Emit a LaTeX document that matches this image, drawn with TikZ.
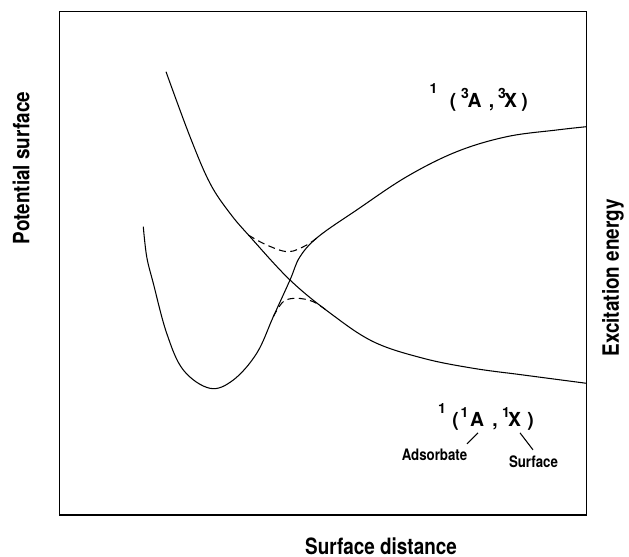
\documentclass[tikz,border=0pt]{standalone}
\usepackage{fontspec}
\setmainfont{texgyreheros}[Extension=.otf, UprightFont=*-regular, BoldFont=*-bold, FakeStretch=0.84]
\newfontfamily\statefont{texgyreheros}[Extension=.otf, UprightFont=*-regular, BoldFont=*-bold]

\begin{document}
\begin{tikzpicture}[x=0.02cm, y=-0.02cm,
  frame/.style={line width=0.9pt},
  curve/.style={line width=0.6pt},
  avoid/.style={curve, dash pattern=on 4pt off 2.5pt},
  axis/.style={font=\bfseries\fontsize{12.8}{14}\selectfont, inner sep=0},
  tag/.style={font=\bfseries\fontsize{9}{10}\selectfont, inner sep=0, anchor=base},
  st/.style={font=\statefont\bfseries\fontsize{11}{12}\selectfont, inner sep=0, anchor=base},
  sup/.style={st, font=\statefont\bfseries\fontsize{8}{9}\selectfont}]
  \useasboundingbox (0,0) rectangle (629,557);
  \draw[frame] (59.5,11.7) rectangle (586.5,515);

  \draw[curve] plot[smooth, tension=0.6] coordinates {(166,71.7) (190,136.7) (210,183.3) (230,213.3) (250,236.7) (290,280) (330,313) (373.3,341.7) (423.3,358.3) (473.3,368.3) (523.3,375) (586.5,383.3)};
  \draw[curve] plot[smooth, tension=0.6] coordinates {(143.3,226.7) (146.7,256.7) (153.3,283.3) (166.7,333.3) (183.3,370) (210,388.3) (233.3,380) (256.7,353.3) (273.3,316.7) (290,280) (300,256.7) (318.3,236.7) (356.7,210) (406.7,176.7) (456.7,151.7) (506.7,136.7) (556.7,130) (586.5,126.7)};
  \draw[avoid] plot[smooth, tension=0.6] coordinates {(248.3,235) (266.7,245) (288.3,251.7) (306.7,245) (318.3,236.7)};
  \draw[avoid] plot[smooth, tension=0.6] coordinates {(273.3,316.7) (283.3,301.7) (296.7,298.3) (313.3,301.7) (328.3,311.7)};

  \node[sup] (uone) at (433.5,94) {1};
  \node[st] (uopen) at (453,107.5) {(};
  \node[sup] (usupA) at (465,99) {3};
  \node[st] (uA) at (474.5,107.5) {A};
  \node[st] (ucomma) at (491.5,107.5) {,};
  \node[sup] (usupX) at (502,99) {3};
  \node[st] (uX) at (510.5,107.5) {X};
  \node[st] (uclose) at (524.5,107.5) {)};

  \node[sup] (lone) at (442,413) {1};
  \node[st] (lopen) at (455.5,426.5) {(};
  \node[sup] (lsupA) at (464.5,417) {1};
  \node[st] (lA) at (477,426.5) {A};
  \node[st] (lcomma) at (495,426.5) {,};
  \node[sup] (lsupX) at (506,417) {1};
  \node[st] (lX) at (514.5,426.5) {X};
  \node[st] (lclose) at (530.5,426.5) {)};

  \node[tag] (ads) at (434.5,460) {Adsorbate};
  \node[tag] (surf) at (533.5,467) {Surface};
  \draw[curve] (lA.south) ++(1,6) -- ++(-11,11);
  \draw[curve] (lX.south) ++(5.5,6) -- ++(13,17);

  \node[axis, rotate=90] (ylab) at (21,168) {Potential surface};
  \node[axis, rotate=90] (elab) at (613,278) {Excitation energy};
  \node[axis, anchor=base] (xlab) at (381,554) {Surface distance};
\end{tikzpicture}
\end{document}
